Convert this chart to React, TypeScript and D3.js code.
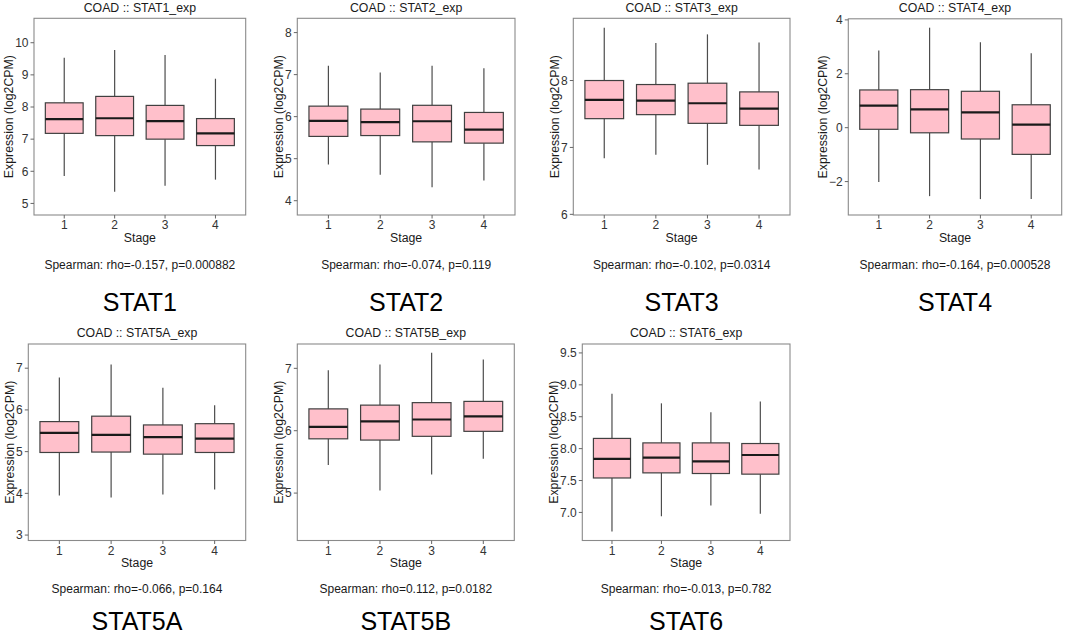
import React from "react";
import * as d3 from "d3";

// ---------- DATA ----------
const cancer = "COAD";
const genes = ["STAT1", "STAT2", "STAT3", "STAT4", "STAT5A", "STAT5B", "STAT6"];
const stages = ["1", "2", "3", "4"];

// per stage: [lower whisker, Q1, median, Q3, upper whisker]
const stat1Boxes = [
  [5.85, 7.18, 7.62, 8.13, 9.53],
  [5.36, 7.11, 7.65, 8.33, 9.77],
  [5.55, 7.0, 7.56, 8.05, 9.62],
  [5.74, 6.8, 7.18, 7.64, 8.88],
];
const stat2Boxes = [
  [4.86, 5.53, 5.9, 6.25, 7.21],
  [4.62, 5.55, 5.87, 6.18, 7.05],
  [4.32, 5.4, 5.89, 6.27, 7.21],
  [4.48, 5.37, 5.69, 6.1, 7.15],
];
const stat3Boxes = [
  [6.84, 7.43, 7.71, 8.0, 8.79],
  [6.89, 7.49, 7.7, 7.94, 8.56],
  [6.74, 7.36, 7.66, 7.96, 8.69],
  [6.67, 7.33, 7.58, 7.83, 8.57],
];
const stat4Boxes = [
  [-2.02, -0.06, 0.82, 1.4, 2.86],
  [-2.54, -0.19, 0.68, 1.41, 3.71],
  [-2.65, -0.42, 0.57, 1.35, 3.17],
  [-2.65, -0.99, 0.11, 0.85, 2.76],
];
const stat5aBoxes = [
  [3.95, 4.98, 5.45, 5.72, 6.78],
  [3.9, 4.99, 5.4, 5.85, 7.09],
  [3.97, 4.94, 5.35, 5.64, 6.53],
  [4.09, 4.98, 5.31, 5.67, 6.11],
];
const stat5bBoxes = [
  [5.45, 5.87, 6.06, 6.35, 6.97],
  [5.04, 5.85, 6.15, 6.41, 7.06],
  [5.3, 5.91, 6.18, 6.45, 7.25],
  [5.55, 5.99, 6.23, 6.47, 7.14],
];
const stat6Boxes = [
  [6.7, 7.54, 7.84, 8.16, 8.86],
  [6.94, 7.62, 7.86, 8.09, 8.71],
  [7.11, 7.61, 7.8, 8.09, 8.57],
  [6.98, 7.6, 7.9, 8.08, 8.74],
];
const allBoxes = [stat1Boxes, stat2Boxes, stat3Boxes, stat4Boxes, stat5aBoxes, stat5bBoxes, stat6Boxes];

const yDomains = [
  [4.64, 10.76],
  [3.66, 8.34],
  [5.99, 8.93],
  [-3.24, 4.04],
  [2.87, 7.58],
  [4.24, 7.39],
  [6.56, 9.64],
];
const yTicks = [
  [5, 6, 7, 8, 9, 10],
  [4, 5, 6, 7, 8],
  [6, 7, 8],
  [-2, 0, 2, 4],
  [3, 4, 5, 6, 7],
  [5, 6, 7],
  [7.0, 7.5, 8.0, 8.5, 9.0, 9.5],
];
const yTickFormats = ["d", "d", "d", "d", "d", "d", ".1f"];
const rhos = ["-0.157", "-0.074", "-0.102", "-0.164", "-0.066", "0.112", "-0.013"];
const pvals = ["0.000882", "0.119", "0.0314", "0.000528", "0.164", "0.0182", "0.782"];

// ---------- LAYOUT ----------
const W = 1065;
const H = 635;
const panelRects = [
  { x0: 34, x1: 245.7, y0: 18.3, y1: 215 },
  { x0: 297.3, x1: 515, y0: 18.3, y1: 215 },
  { x0: 573.3, x1: 790, y0: 18.3, y1: 215 },
  { x0: 848.3, x1: 1061.7, y0: 18.8, y1: 215 },
  { x0: 28.3, x1: 245.7, y0: 344, y1: 540.5 },
  { x0: 297.3, x1: 514.3, y0: 344, y1: 540.5 },
  { x0: 582.3, x1: 790, y0: 344, y1: 540.5 },
];
const textRows = [
  { spearman: 269.3, gene: 311 },
  { spearman: 593.3, gene: 629.5 },
];

const FONT = "'Liberation Sans', Arial, Helvetica, sans-serif";
const FILL = "#FFC0CB";

function approxWidth(s: string, size: number) {
  let w = 0;
  for (const c of s) {
    if (c === "-") w += 0.333;
    else if (c === ".") w += 0.278;
    else w += 0.556;
  }
  return w * size;
}

function Panel({ i }: { i: number }) {
  const r = panelRects[i];
  const row = i < 4 ? 0 : 1;
  const x = d3.scaleLinear().domain([0.4, stages.length + 0.6]).range([r.x0, r.x1]);
  const y = d3.scaleLinear().domain(yDomains[i]).range([r.y1, r.y0]);
  const fmt = d3.format(yTickFormats[i]);
  const labels = yTicks[i].map((t) => fmt(t));
  const maxLW = d3.max(labels, (l) => approxWidth(l, 12)) || 0;
  const cx = (r.x0 + r.x1) / 2;
  const hw = 0.375;
  const boxes = allBoxes[i];
  return (
    <g>
      <text x={cx} y={r.y0 - 6.8} textAnchor="middle" fontSize={12.3} fill="#1a1a1a">
        {`${cancer} :: ${genes[i]}_exp`}
      </text>
      {boxes.map((b, k) => {
        const px = x(k + 1);
        return (
          <g key={k}>
            <line x1={px} x2={px} y1={y(b[4])} y2={y(b[3])} stroke="#4d4d4d" strokeWidth={1.2} />
            <line x1={px} x2={px} y1={y(b[1])} y2={y(b[0])} stroke="#4d4d4d" strokeWidth={1.2} />
            <rect
              x={x(k + 1 - hw)}
              width={x(k + 1 + hw) - x(k + 1 - hw)}
              y={y(b[3])}
              height={y(b[1]) - y(b[3])}
              fill={FILL}
              stroke="#404040"
              strokeWidth={1.2}
            />
            <line
              x1={x(k + 1 - hw)}
              x2={x(k + 1 + hw)}
              y1={y(b[2])}
              y2={y(b[2])}
              stroke="#1a1a1a"
              strokeWidth={2.2}
            />
          </g>
        );
      })}
      <rect x={r.x0} y={r.y0} width={r.x1 - r.x0} height={r.y1 - r.y0} fill="none" stroke="#8a8a8a" strokeWidth={1.1} />
      {yTicks[i].map((t, k) => (
        <g key={k}>
          <line x1={r.x0 - 3.5} x2={r.x0} y1={y(t)} y2={y(t)} stroke="#666" strokeWidth={1} />
          <text x={r.x0 - 5.5} y={y(t) + 4.3} textAnchor="end" fontSize={12} fill="#333">
            {labels[k]}
          </text>
        </g>
      ))}
      {stages.map((s, k) => (
        <g key={k}>
          <line x1={x(k + 1)} x2={x(k + 1)} y1={r.y1} y2={r.y1 + 3.5} stroke="#666" strokeWidth={1} />
          <text x={x(k + 1)} y={r.y1 + 14.2} textAnchor="middle" fontSize={12} fill="#333">
            {s}
          </text>
        </g>
      ))}
      <text x={cx} y={r.y1 + 26.8} textAnchor="middle" fontSize={12.3} fill="#1a1a1a">
        Stage
      </text>
      <text
        transform={`translate(${r.x0 - maxLW - 12.4 + 4.3},${(r.y0 + r.y1) / 2}) rotate(-90)`}
        textAnchor="middle"
        fontSize={12.3}
        fill="#1a1a1a"
      >
        Expression (log2CPM)
      </text>
      <text x={cx} y={textRows[row].spearman} textAnchor="middle" fontSize={12} fill="#1a1a1a">
        {`Spearman: rho=${rhos[i]}, p=${pvals[i]}`}
      </text>
      <text x={cx} y={textRows[row].gene} textAnchor="middle" fontSize={25} fill="#000">
        {genes[i]}
      </text>
    </g>
  );
}

export default function App() {
  return (
    <svg
      width={W}
      height={H}
      style={{ position: "absolute", left: 0, top: 0, background: "#fff" }}
      fontFamily={FONT}
    >
      <rect width={W} height={H} fill="#fff" />
      {genes.map((g, i) => (
        <Panel key={g} i={i} />
      ))}
    </svg>
  );
}
